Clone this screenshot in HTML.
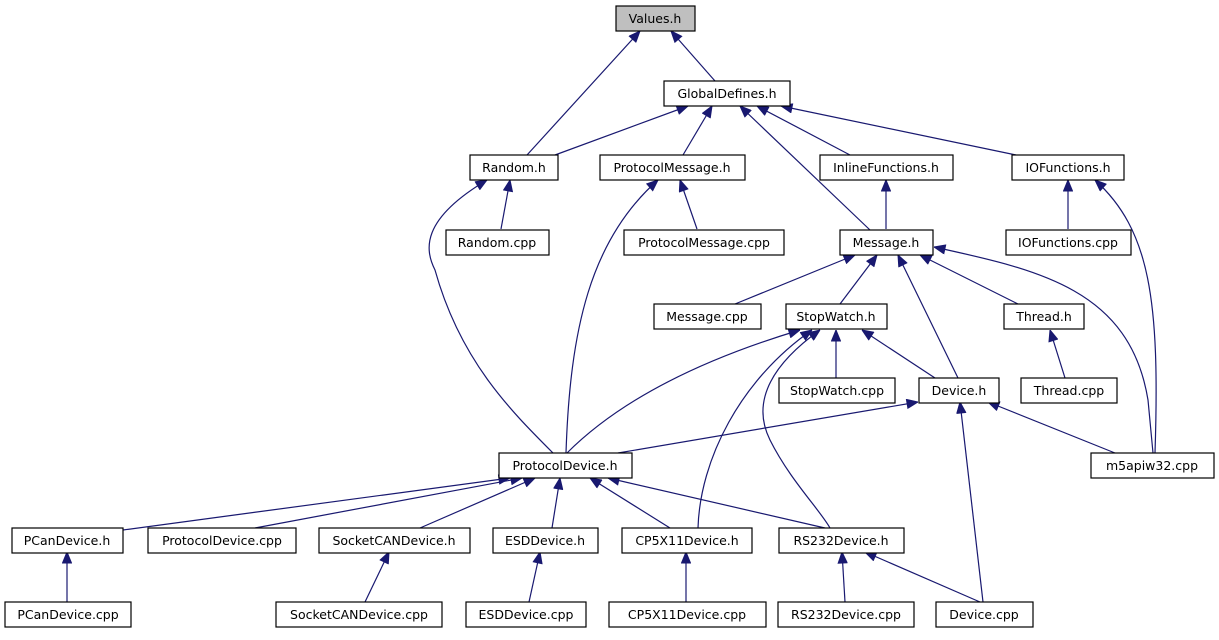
<!DOCTYPE html>
<html><head><meta charset="utf-8"><style>
body{margin:0;background:#fff;width:1219px;height:635px;overflow:hidden}
svg text{font-family:"DejaVu Sans","Liberation Sans",sans-serif;font-size:12.5px;fill:#000;text-anchor:middle}
rect{fill:#fff;stroke:#000;stroke-width:1.2}
.e path{stroke:#191970;stroke-width:1.2;fill:none;marker-start:url(#a)}
</style></head><body>
<svg width="1219" height="635" xmlns="http://www.w3.org/2000/svg">
<defs><marker id="a" markerWidth="12" markerHeight="10" refX="0" refY="5" orient="auto" markerUnits="userSpaceOnUse" viewBox="0 0 12 10"><polygon points="0,5 11,0.5 11,9.5" fill="#191970" stroke="#191970" stroke-width="1"/></marker></defs>
<g class="e">
<path d="M671,31 L715,81"/>
<path d="M640,31 L527,155"/>
<path d="M688,106 L555,155"/>
<path d="M712,106 L683,155"/>
<path d="M740,106 L870,230"/>
<path d="M757,106 L850,155"/>
<path d="M781,106 L1016,155"/>
<path d="M510,180 L501,229"/>
<path d="M487,180 C420,220 425,250 435,270 C460,360 510,410 553,453"/>
<path d="M680,180 L697,229"/>
<path d="M658,180 C590,240 570,330 566,453"/>
<path d="M886,180 L886,229"/>
<path d="M1068,180 L1068,229"/>
<path d="M1095,180 C1150,230 1160,300 1155,453"/>
<path d="M855,255 L735,304"/>
<path d="M877,255 L840,304"/>
<path d="M898,255 L958,378"/>
<path d="M920,255 L1018,304"/>
<path d="M934,247 C1040,270 1130,290 1148,400 L1153,453"/>
<path d="M1050,330 L1065,378"/>
<path d="M836,330 L836,378"/>
<path d="M862,330 L935,378"/>
<path d="M800,330 C700,360 620,400 567,453"/>
<path d="M812,330 C740,380 700,460 698,528"/>
<path d="M820,330 C750,380 760,420 770,440 C790,480 820,510 830,528"/>
<path d="M918,402 L618,453"/>
<path d="M960,402 L983,602"/>
<path d="M988,402 L1115,453"/>
<path d="M510,478 L123,530"/>
<path d="M522,478 L255,528"/>
<path d="M535,478 L420,528"/>
<path d="M560,478 L552,528"/>
<path d="M590,478 L670,528"/>
<path d="M608,478 L825,528"/>
<path d="M67,552 L67,602"/>
<path d="M389,552 L365,602"/>
<path d="M540,552 L529,602"/>
<path d="M686,552 L686,602"/>
<path d="M842,552 L845,602"/>
<path d="M865,552 L980,602"/>
</g>
<rect x="616" y="6" width="79" height="25" style="fill:#bfbfbf"/><text x="655" y="23">Values.h</text>
<rect x="664" y="81" width="126" height="25"/><text x="727" y="98">GlobalDefines.h</text>
<rect x="470" y="155" width="88" height="25"/><text x="514" y="172">Random.h</text>
<rect x="600" y="155" width="145" height="25"/><text x="672" y="172">ProtocolMessage.h</text>
<rect x="820" y="155" width="133" height="25"/><text x="886" y="172">InlineFunctions.h</text>
<rect x="1012" y="155" width="112" height="25"/><text x="1068" y="172">IOFunctions.h</text>
<rect x="446" y="230" width="103" height="25"/><text x="497" y="247">Random.cpp</text>
<rect x="624" y="230" width="160" height="25"/><text x="704" y="247">ProtocolMessage.cpp</text>
<rect x="840" y="230" width="93" height="25"/><text x="886" y="247">Message.h</text>
<rect x="1006" y="230" width="125" height="25"/><text x="1068" y="247">IOFunctions.cpp</text>
<rect x="654" y="304" width="107" height="25"/><text x="707" y="321">Message.cpp</text>
<rect x="786" y="304" width="101" height="25"/><text x="836" y="321">StopWatch.h</text>
<rect x="1004" y="304" width="80" height="25"/><text x="1044" y="321">Thread.h</text>
<rect x="779" y="378" width="116" height="25"/><text x="837" y="395">StopWatch.cpp</text>
<rect x="919" y="378" width="80" height="25"/><text x="959" y="395">Device.h</text>
<rect x="1021" y="378" width="96" height="25"/><text x="1069" y="395">Thread.cpp</text>
<rect x="499" y="453" width="133" height="25"/><text x="565" y="470">ProtocolDevice.h</text>
<rect x="1091" y="453" width="123" height="25"/><text x="1152" y="470">m5apiw32.cpp</text>
<rect x="12" y="528" width="111" height="25"/><text x="67" y="545">PCanDevice.h</text>
<rect x="148" y="528" width="148" height="25"/><text x="222" y="545">ProtocolDevice.cpp</text>
<rect x="319" y="528" width="151" height="25"/><text x="394" y="545">SocketCANDevice.h</text>
<rect x="493" y="528" width="105" height="25"/><text x="545" y="545">ESDDevice.h</text>
<rect x="622" y="528" width="130" height="25"/><text x="687" y="545">CP5X11Device.h</text>
<rect x="779" y="528" width="125" height="25"/><text x="841" y="545">RS232Device.h</text>
<rect x="5" y="602" width="126" height="25"/><text x="68" y="619">PCanDevice.cpp</text>
<rect x="276" y="602" width="166" height="25"/><text x="359" y="619">SocketCANDevice.cpp</text>
<rect x="466" y="602" width="120" height="25"/><text x="526" y="619">ESDDevice.cpp</text>
<rect x="609" y="602" width="157" height="25"/><text x="687" y="619">CP5X11Device.cpp</text>
<rect x="778" y="602" width="136" height="25"/><text x="846" y="619">RS232Device.cpp</text>
<rect x="936" y="602" width="97" height="25"/><text x="984" y="619">Device.cpp</text>
</svg>
</body></html>
